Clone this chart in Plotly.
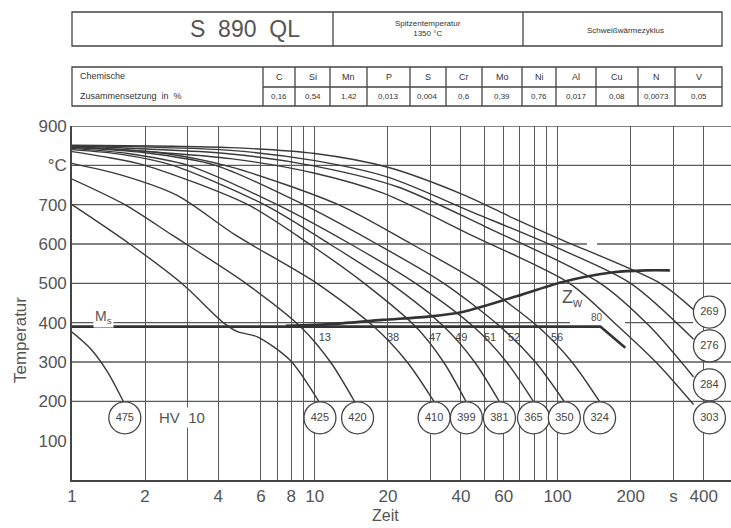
import numpy as np
import plotly.graph_objects as go

# ---------------- data ----------------
# cooling curves (time s, temperature °C), named by final hardness HV10
c475_t = [1, 1.2, 1.4, 1.63]
c475_T = [376, 332, 275, 199]
c425_t = [1, 1.73, 2.83, 4.2, 4.8, 5.8, 7.9, 10.4]
c425_T = [700, 600, 500, 400, 377, 364, 305, 199]
c420_t = [1, 1.65, 2.58, 5.2, 8.8, 11.6, 14.6]
c420_T = [765, 700, 623, 500, 388, 300, 199]
c410_t = [1, 1.6, 2.7, 4.7, 10.2, 17.5, 24, 31]
c410_T = [805, 775, 724, 623, 500, 390, 300, 199]
c399_t = [1, 1.35, 2.0, 5.3, 9.5, 16, 26, 33.9, 42]
c399_T = [835, 822, 800, 700, 600, 500, 390, 300, 199]
c381_t = [1, 1.6, 2.6, 6.2, 11.5, 20.5, 34, 45.5, 57.6]
c381_T = [840, 828, 800, 700, 600, 500, 390, 300, 199]
c365_t = [1, 1.7, 3.0, 7.0, 14, 26, 45, 61.6, 79.6]
c365_T = [843, 830, 800, 700, 600, 500, 390, 300, 199]
c350_t = [1, 2.0, 3.9, 9.0, 18, 34, 58, 81, 106.6]
c350_T = [845, 832, 800, 700, 600, 500, 390, 300, 199]
c324_t = [1, 2.3, 4.5, 12.5, 25, 48, 83, 114.5, 149]
c324_T = [847, 832, 796, 700, 600, 500, 390, 300, 199]
c303_t = [1, 4.5, 10, 19, 45, 112, 178, 263, 363]
c303_T = [848, 817, 780, 730, 620, 500, 390, 290, 192]
c284_t = [1, 4.5, 10, 22, 50, 150, 240, 363]
c284_T = [849, 829, 798, 745, 645, 500, 390, 262]
c276_t = [1, 4.5, 10, 20, 45, 100, 200, 363]
c276_T = [850, 838, 812, 770, 680, 590, 500, 358]
c269_t = [1, 4.5, 10, 20, 41, 66, 100, 265, 363]
c269_T = [851, 845, 830, 795, 725, 665, 615, 500, 433]

# martensite start and bainite (Zw) start lines
ms_t = [1, 150, 190]
ms_T = [390, 390, 336]
zw_t = [7.6, 12, 19, 30, 41, 66, 104, 170, 230, 290]
zw_T = [392, 397, 407, 416, 428, 465, 503, 528, 533, 533]

# hardness circles
hv_vals = [475, 425, 420, 410, 399, 381, 365, 350, 324, 303, 284, 276, 269]
hv_t = [1.65, 10.5, 15.0, 31.0, 42.1, 57.6, 79.6, 106.6, 148.9, 422, 422, 422, 422]
hv_T = [158, 158, 158, 158, 158, 158, 158, 158, 158, 158, 242, 341, 427]

# transformed fraction labels on Ms / Zw
frac_txt = ["13", "38", "47", "49", "51", "52", "56"]
frac_t = [11.0, 21.0, 31.3, 40.1, 52.7, 66.2, 99.5]
frac_T = [361, 361, 361, 361, 361, 361, 361]

# axis ticks
x_ticks = [1, 2, 4, 6, 8, 10, 20, 40, 60, 100, 200, 300, 400]
x_ticktext = ["1", "2", "4", "6", "8", "10", "20", "40", "60", "100", "200", "s", "400"]
x_minor = [3, 7, 9, 30, 50, 70, 80, 90]
y_ticks = [100, 200, 300, 400, 500, 600, 700, 800, 900]
y_ticktext = ["100", "200", "300", "400", "500", "600", "700", "°C", "900"]
h_grid = [200, 300, 500, 700, 800, 900]

# chemical composition
elements = ["C", "Si", "Mn", "P", "S", "Cr", "Mo", "Ni", "Al", "Cu", "N", "V"]
contents = ["0,16", "0,54", "1,42", "0,013", "0,004", "0,6", "0,39", "0,76", "0,017", "0,08", "0,0073", "0,05"]

# ---------------- figure ----------------
LINE = "#3a3a3a"
GRID = "#5a5a5a"
TXT = "#555555"
FONT = "Liberation Sans, Arial, sans-serif"

W, H = 731, 528
L, R, T_, B = 72, 0, 126, 48
PW, PH = W - L - R, H - T_ - B

# table column borders (pixels)
col_edges = [263, 295, 330, 367, 410, 446, 482, 522, 556, 596, 638, 675, 722]


def px(xp):
    return (xp - L) / PW


def py(yp):
    return (H - B - yp) / PH


def note(text, xp, yp, size, color="#333", xanchor="center", **kw):
    return dict(text=text, x=px(xp), y=py(yp), xref="paper", yref="paper", showarrow=False,
                xanchor=xanchor, yanchor="middle", font=dict(size=size, color=color, family=FONT), **kw)


fig = go.Figure()

curves = [(c475_t, c475_T), (c425_t, c425_T), (c420_t, c420_T), (c410_t, c410_T),
          (c399_t, c399_T), (c381_t, c381_T), (c365_t, c365_T), (c350_t, c350_T),
          (c324_t, c324_T), (c303_t, c303_T), (c284_t, c284_T), (c276_t, c276_T),
          (c269_t, c269_T)]
for ct, cT in curves:
    fig.add_trace(go.Scatter(x=ct, y=cT, mode="lines",
                             line=dict(color=LINE, width=1.4, shape="spline", smoothing=0.8),
                             hoverinfo="skip", showlegend=False))

fig.add_trace(go.Scatter(x=ms_t, y=ms_T, mode="lines", line=dict(color="#333", width=2.6),
                         hoverinfo="skip", showlegend=False))
fig.add_trace(go.Scatter(x=zw_t, y=zw_T, mode="lines",
                         line=dict(color="#333", width=2.6, shape="spline", smoothing=0.8),
                         hoverinfo="skip", showlegend=False))

fig.add_trace(go.Scatter(x=hv_t, y=hv_T, mode="markers+text",
                         marker=dict(size=32, color="white", line=dict(color="#444", width=1.3)),
                         text=[str(v) for v in hv_vals], textposition="middle center",
                         textfont=dict(size=11, color="#444", family=FONT),
                         hoverinfo="skip", showlegend=False))

fig.add_trace(go.Scatter(x=frac_t, y=frac_T, mode="text", text=frac_txt,
                         textfont=dict(size=11, color="#444", family=FONT),
                         hoverinfo="skip", showlegend=False))

shapes = []
for g in h_grid:
    shapes.append(dict(type="line", xref="paper", yref="y", x0=0, x1=1, y0=g, y1=g,
                       line=dict(color=GRID, width=1.3), layer="below"))
for a, b in [(0, px(587)), (px(597), 1)]:
    shapes.append(dict(type="line", xref="paper", yref="y", x0=a, x1=b, y0=600, y1=600,
                       line=dict(color=GRID, width=1.3), layer="below"))
for a, b in [(0, px(570)), (px(625), px(693))]:
    shapes.append(dict(type="line", xref="paper", yref="y", x0=a, x1=b, y0=400, y1=400,
                       line=dict(color=GRID, width=1.3), layer="below"))

# header boxes
box = dict(color="#444", width=1.3)
shapes.append(dict(type="rect", xref="paper", yref="paper", x0=px(72), x1=px(722), y0=py(46), y1=py(12), line=box))
for xd in [333, 523]:
    shapes.append(dict(type="line", xref="paper", yref="paper", x0=px(xd), x1=px(xd), y0=py(46), y1=py(12), line=box))
shapes.append(dict(type="rect", xref="paper", yref="paper", x0=px(72), x1=px(722), y0=py(106), y1=py(67), line=box))
shapes.append(dict(type="line", xref="paper", yref="paper", x0=px(col_edges[0]), x1=px(col_edges[-1]),
                   y0=py(87), y1=py(87), line=box))
for xb in col_edges[:-1]:
    shapes.append(dict(type="line", xref="paper", yref="paper", x0=px(xb), x1=px(xb), y0=py(106), y1=py(67), line=box))

ann = []
ann.append(note("S  890  QL", 245, 29, 23, TXT))
ann.append(note("Spitzentemperatur<br>1350 °C", 428, 29, 8))
ann.append(note("Schweißwärmezyklus", 625, 30, 8))
ann.append(note("Chemische", 78, 76, 9, xanchor="left"))
ann.append(note("Zusammensetzung  in  %", 78, 96, 9, xanchor="left"))
for i, (el, val) in enumerate(zip(elements, contents)):
    xc = (col_edges[i] + col_edges[i + 1]) / 2
    ann.append(note(el, xc, 77, 9))
    ann.append(note(val, xc, 97, 8))

# in-plot labels
ann.append(dict(text="M<sub>s</sub>", x=np.log10(1.35), y=414, xref="x", yref="y", showarrow=False,
                yanchor="middle", bgcolor="white", font=dict(size=14, color=TXT, family=FONT)))
ann.append(dict(text="HV  10", x=np.log10(2.85), y=158, xref="x", yref="y", showarrow=False,
                yanchor="middle", bgcolor="white", font=dict(size=15, color=TXT, family=FONT)))
ann.append(dict(text="Z<sub>w</sub>", x=np.log10(115), y=462, xref="x", yref="y", showarrow=False,
                yanchor="middle", font=dict(size=18, color=TXT, family=FONT)))
ann.append(dict(text="80", x=np.log10(145), y=412, xref="x", yref="y", showarrow=False,
                yanchor="middle", font=dict(size=10, color=TXT, family=FONT)))
ann.append(note("Temperatur", 20, 340, 17, TXT, textangle=-90))
ann.append(note("Zeit", 385, 515, 16, TXT))

fig.update_layout(
    width=W, height=H, margin=dict(l=L, r=R, t=T_, b=B, pad=0),
    paper_bgcolor="white", plot_bgcolor="white",
    shapes=shapes, annotations=ann, showlegend=False,
    xaxis=dict(type="log", range=[0, (W - L) / 242.8], tickvals=x_ticks,
               ticktext=x_ticktext, showgrid=True, gridcolor=GRID, gridwidth=1.3,
               minor=dict(tickvals=x_minor, showgrid=True, gridcolor=GRID, gridwidth=1.3),
               showline=True, linecolor="#444", linewidth=1.6, zeroline=False, ticks="",
               tickfont=dict(size=17, color=TXT, family=FONT)),
    yaxis=dict(range=[0, 900], tickvals=y_ticks, ticktext=y_ticktext, showgrid=False,
               showline=True, linecolor="#444", linewidth=1.6, zeroline=False, ticks="",
               tickfont=dict(size=17, color=TXT, family=FONT)),
)

fig.write_html("out.html")
